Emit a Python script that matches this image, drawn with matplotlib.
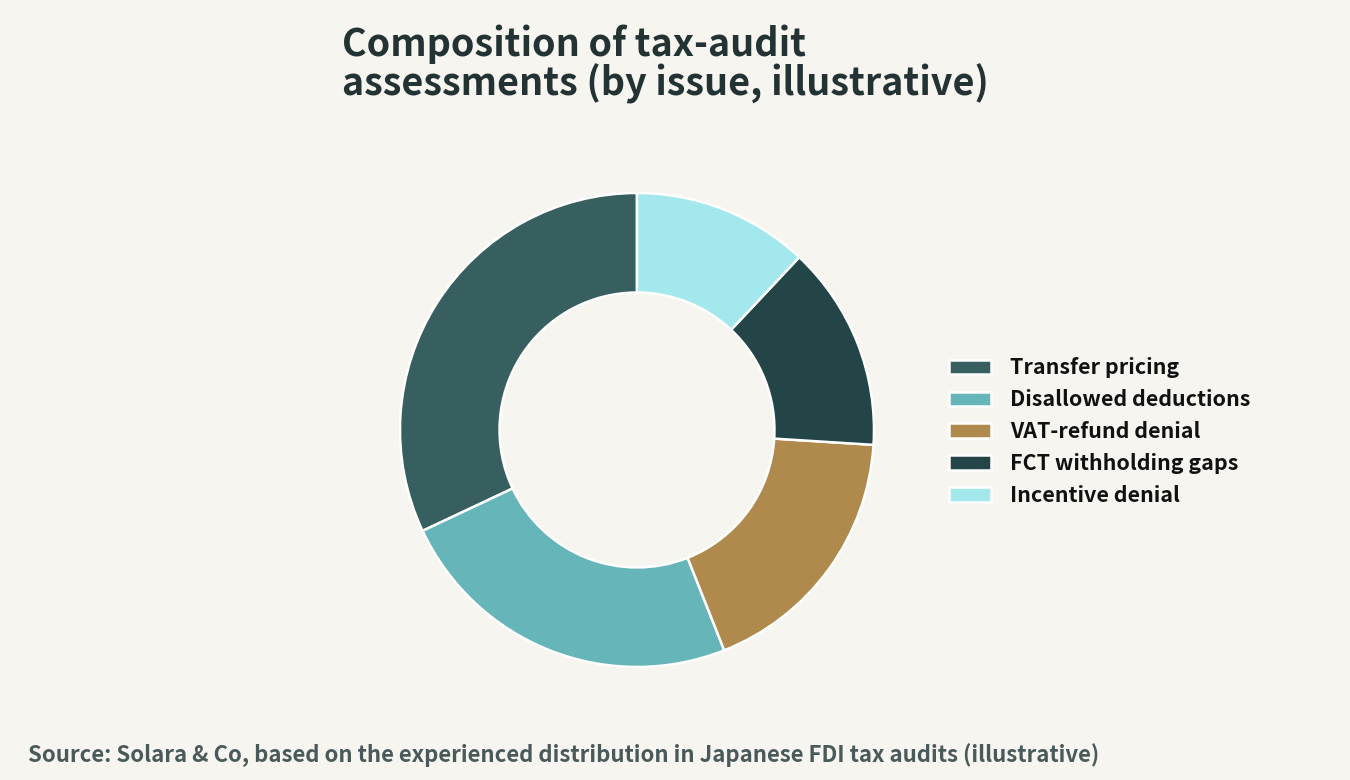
import matplotlib
matplotlib.use('Agg')
from matplotlib import pyplot as plt

plt.rcParams['font.family'] = ['Noto Sans CJK JP', 'DejaVu Sans']

labels = ['Transfer pricing', 'Disallowed deductions', 'VAT-refund denial',
          'FCT withholding gaps', 'Incentive denial']
shares = [32, 24, 18, 14, 12]
colors = ['#375f60', '#66b5b9', '#b0894d', '#234547', '#a2e8ec']

bg = '#f6f5f0'
fig = plt.figure(figsize=(13.5, 7.8), dpi=100, facecolor=bg)

ax = fig.add_axes([0.2963, 0.1449, 0.3511, 0.6077])
ax.set_facecolor(bg)
wedges, _ = ax.pie(shares, colors=colors, startangle=90, counterclock=True,
                   radius=1, wedgeprops=dict(width=0.42, edgecolor='white', linewidth=1.8))
ax.set_xlim(-1, 1)
ax.set_ylim(-1, 1)
ax.set_aspect('equal')
ax.axis('off')

fig.text(342/1350, 1 - 24/780, 'Composition of tax-audit\nassessments (by issue, illustrative)',
         fontsize=27.2, fontweight='bold', color='#233333', ha='left', va='top',
         linespacing=1.0)

leg = fig.legend(wedges, labels, loc='upper left', bbox_to_anchor=(930/1350, 1 - 338/780),
                 frameon=False, fontsize=15.4, handlelength=1.96, handleheight=0.65,
                 handletextpad=0.9, labelspacing=0.51)
for t in leg.get_texts():
    t.set_fontweight('bold')
    t.set_color('#111111')

fig.text(28/1350, 1 - 755/780,
         'Source: Solara & Co, based on the experienced distribution in Japanese FDI tax audits (illustrative)',
         fontsize=15.95, fontweight='bold', color='#4a5a5a', ha='left', va='center')

fig.savefig('out.png', dpi=100, facecolor=bg)
